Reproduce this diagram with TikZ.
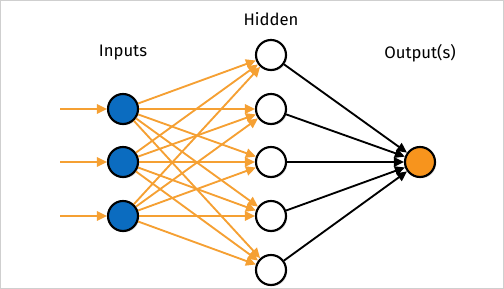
\documentclass[tikz,border=0pt]{standalone}
\usepackage{fontspec}
\setmainfont{Fira Sans}
\usetikzlibrary{arrows.meta, positioning, shadows, calc}
\definecolor{netBlue}{HTML}{0B6CC0}
\definecolor{netOrange}{HTML}{F7941D}
\definecolor{edgeOrange}{HTML}{F5A033}
\definecolor{frameGray}{HTML}{CFCFCF}

\begin{document}
\begin{tikzpicture}[x=0.75pt, y=0.75pt,
    unit/.style={circle, draw=black, line width=1.6pt, fill=#1,
                 minimum size=22.5pt, inner sep=0pt,
                 drop shadow={opacity=0.25, shadow xshift=1pt, shadow yshift=-1pt}},
    layer/.style={font=\fontsize{12.5}{15}\selectfont\color{black}},
    feed/.style={-{Triangle[length=7.5pt, width=7pt]}, line width=1.4pt, edgeOrange},
    toOut/.style={-{Triangle[length=7.5pt, width=7pt]}, line width=1.4pt, black},
  ]
    \useasboundingbox (0,0) rectangle (504,289);
    \draw[frameGray, line width=0.8pt] (0.5,0.5) rectangle (503.5,288.5);

    % layers
    \node[unit=netBlue] (i1) at (123,180) {};
    \node[unit=netBlue] (i2) at (123,127) {};
    \node[unit=netBlue] (i3) at (123,73) {};

    \node[unit=white] (h1) at (271,234) {};
    \node[unit=white] (h2) at (271,180) {};
    \node[unit=white] (h3) at (271,127) {};
    \node[unit=white] (h4) at (271,73) {};
    \node[unit=white] (h5) at (271,19) {};

    \node[unit=netOrange] (o) at (420,127) {};

    % labels
    \node[layer] (inLbl) at (123,236) {Inputs};
    \node[layer] (hidLbl) at (271,270) {Hidden};
    \node[layer] (outLbl) at (420,236) {Output(s)};

    % incoming signals
    \foreach \i in {1,2,3} {
      \coordinate (s\i) at ($(i\i)+(-63,0)$);
      \draw[feed] (s\i) -- (i\i);
    }

    % input -> hidden
    \foreach \i in {1,2,3}
      \foreach \h in {1,...,5}
        \draw[feed] (i\i) -- (h\h);

    % hidden -> output
    \foreach \h in {1,...,5}
      \draw[toOut] (h\h) -- (o);
  \end{tikzpicture}
\end{document}
